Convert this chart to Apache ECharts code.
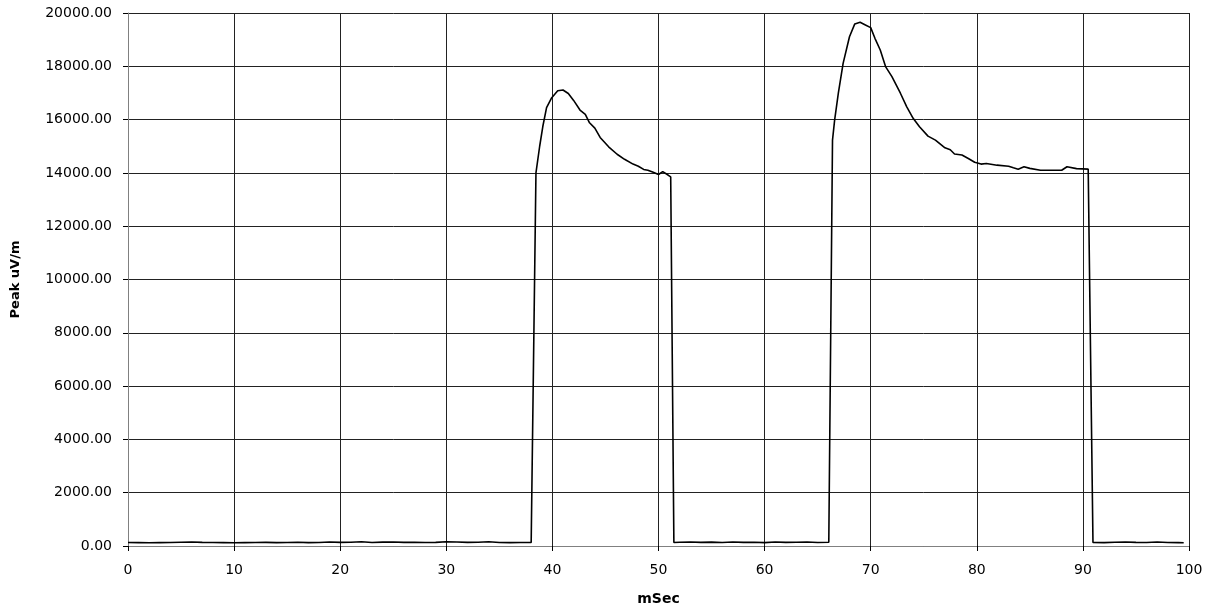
<!DOCTYPE html>
<html>
<head>
<meta charset="utf-8">
<title>Peak uV/m</title>
<script src="https://cdn.jsdelivr.net/npm/echarts@6/dist/echarts.min.js"></script>
<style>
  html, body { margin: 0; padding: 0; background: #fff; }
  #chart { width: 1217px; height: 611px; }
</style>
</head>
<body>
<div id="chart"></div>
<script>
// time in mSec
var times = [
  0, 1, 2, 3, 4, 5, 6, 7, 8, 9, 10, 11, 12, 13, 14, 15, 16, 17, 18, 19,
  20, 21, 22, 23, 24, 25, 26, 27, 28, 29, 30, 31, 32, 33, 34, 35, 36, 37, 38,
  38.1, 38.45, 38.8, 39.1, 39.45, 39.9, 40.5, 41.0, 41.5, 42.0, 42.6, 43.1, 43.5,
  44.0, 44.5, 45.3, 46.1, 46.8, 47.6, 48.1, 48.6, 49.0, 49.5, 50.0, 50.4, 50.9, 51.15,
  51.45, 52, 53, 54, 55, 56, 57, 58, 59, 60, 61, 62, 63, 64, 65, 66.05,
  66.4, 66.6, 66.95, 67.4, 68.0, 68.5, 69.0, 69.5, 70.0, 70.4, 70.9, 71.4, 72.0,
  72.8, 73.4, 74.0, 74.6, 75.4, 76.1, 77.0, 77.5, 77.9, 78.6, 79.2, 79.8, 80.4,
  80.9, 81.9, 83.0, 83.45, 83.9, 84.45, 85.0, 86.0, 88.0, 88.5, 89.4, 90.5,
  90.95, 92, 93, 94, 95, 96, 97, 98, 99, 99.5
];
// peak field strength
var peaks = [
  130, 125, 120, 125, 130, 140, 150, 135, 130, 125, 120, 125, 130, 135, 125, 130, 140, 125, 130, 150,
  135, 140, 160, 130, 145, 150, 135, 140, 130, 135, 160, 150, 135, 140, 160, 130, 125, 130, 135,
  140, 14000, 15000, 15750, 16450, 16800, 17080, 17110, 16980, 16720, 16360, 16200, 15880,
  15680, 15330, 14980, 14700, 14510, 14330, 14250, 14130, 14100, 14020, 13940, 14050, 13920, 13850,
  130, 140, 150, 135, 145, 130, 150, 135, 140, 125, 150, 135, 140, 150, 130, 140,
  15230, 15980, 16990, 18110, 19110, 19590, 19650, 19550, 19450, 19050, 18610, 17990, 17610,
  16990, 16480, 16050, 15730, 15380, 15230, 14940, 14870, 14710, 14670, 14540, 14400, 14330,
  14350, 14290, 14250, 14190, 14140, 14230, 14170, 14100, 14100, 14230, 14160, 14140,
  130, 125, 140, 150, 135, 130, 150, 130, 125, 120
];

var points = [];
for (var i = 0; i < times.length; i++) {
  points.push([times[i], peaks[i]]);
}

var chart = echarts.init(document.getElementById('chart'));
chart.setOption({
  animation: false,
  backgroundColor: '#fff',
  grid: {
    left: 128,
    right: 28,
    top: 13,
    bottom: 65
  },
  xAxis: {
    type: 'value',
    min: 0,
    max: 100,
    interval: 10,
    name: 'mSec',
    nameLocation: 'middle',
    nameGap: 46,
    nameTextStyle: {
      fontFamily: 'DejaVu Sans',
      fontWeight: 'bold',
      fontSize: 14,
      color: '#000'
    },
    axisLine: { lineStyle: { color: '#808080', width: 1 } },
    axisTick: { show: true, length: 5, lineStyle: { color: '#000' } },
    axisLabel: {
      margin: 17,
      fontFamily: 'DejaVu Sans',
      fontSize: 14,
      color: '#000'
    },
    splitLine: { show: true, lineStyle: { color: '#222', width: 1 } }
  },
  yAxis: {
    type: 'value',
    min: 0,
    max: 20000,
    interval: 2000,
    name: 'Peak uV/m',
    nameLocation: 'middle',
    nameGap: 106,
    nameTextStyle: {
      fontFamily: 'DejaVu Sans',
      fontWeight: 'bold',
      fontSize: 13,
      color: '#000'
    },
    axisLine: { show: true, lineStyle: { color: '#808080', width: 1 } },
    axisTick: { show: true, length: 5, lineStyle: { color: '#000' } },
    axisLabel: {
      margin: 16,
      fontFamily: 'DejaVu Sans',
      fontSize: 14,
      color: '#000',
      formatter: function (v) {
        return v.toFixed(2);
      }
    },
    splitLine: { show: true, lineStyle: { color: '#222', width: 1 } }
  },
  series: [{
    name: 'Peak uV/m',
    type: 'line',
    data: points,
    symbol: 'none',
    lineStyle: { color: '#000', width: 1.6 }
  }]
});
</script>
</body>
</html>
